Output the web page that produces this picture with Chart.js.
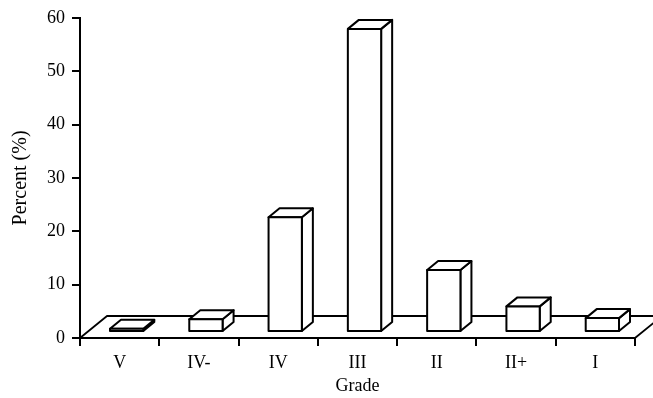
<!DOCTYPE html>
<html>
<head>
<meta charset="utf-8">
<script src="https://cdn.jsdelivr.net/npm/chart.js@4/dist/chart.umd.min.js"></script>
<style>
  html, body { margin: 0; padding: 0; background: #fff; }
  #wrap { width: 653px; height: 398px; }
</style>
</head>
<body>
<div id="wrap"><canvas id="c" width="653" height="398"></canvas></div>
<script>
// Distribution of grades (percent of cases)
const grades = ['V', 'IV-', 'IV', 'III', 'II', 'II+', 'I'];
const percents = [0.6, 2.4, 21.5, 56.8, 11.6, 4.8, 2.6];
const yTicks = [0, 10, 20, 30, 40, 50, 60];

const INK = '#000';
const SERIF = "'Liberation Serif', 'Times New Roman', serif";

// 3D look: floor depth, bar placement inside the floor, bar depth
const FLOOR = { dx: 27, dy: -22 };
const BAR_POS = { dx: 7, dy: -6 };
const BAR_DEPTH = { dx: 11, dy: -9 };

const floorPlugin = {
  id: 'floor3d',
  beforeDatasetsDraw(chart) {
    const { ctx, chartArea: a } = chart;
    ctx.save();
    ctx.strokeStyle = INK;
    ctx.lineWidth = 1.8;
    ctx.lineJoin = 'round';
    ctx.beginPath();
    ctx.moveTo(a.left, a.bottom);
    ctx.lineTo(a.left + FLOOR.dx, a.bottom + FLOOR.dy);
    ctx.lineTo(a.right + FLOOR.dx, a.bottom + FLOOR.dy);
    ctx.lineTo(a.right, a.bottom);
    ctx.stroke();
    ctx.restore();
  }
};

const boxPlugin = {
  id: 'box3d',
  afterDatasetsDraw(chart) {
    const { ctx } = chart;
    const meta = chart.getDatasetMeta(0);
    ctx.save();
    ctx.strokeStyle = INK;
    ctx.fillStyle = '#fff';
    ctx.lineWidth = 2;
    ctx.lineJoin = 'round';
    meta.data.forEach((bar) => {
      const { x, y, base, width } = bar.getProps(['x', 'y', 'base', 'width'], true);
      const l = x - width / 2 + BAR_POS.dx;
      const r = x + width / 2 + BAR_POS.dx;
      const t = y + BAR_POS.dy;
      const b = base + BAR_POS.dy;
      const dx = BAR_DEPTH.dx, dy = BAR_DEPTH.dy;
      const face = (pts) => {
        ctx.beginPath();
        ctx.moveTo(pts[0][0], pts[0][1]);
        for (let i = 1; i < pts.length; i++) ctx.lineTo(pts[i][0], pts[i][1]);
        ctx.closePath();
        ctx.fill();
        ctx.stroke();
      };
      face([[r, t], [r + dx, t + dy], [r + dx, b + dy], [r, b]]);   // side
      face([[l, t], [r, t], [r + dx, t + dy], [l + dx, t + dy]]);   // top
      face([[l, t], [r, t], [r, b], [l, b]]);                       // front
    });
    ctx.restore();
  }
};

new Chart(document.getElementById('c'), {
  type: 'bar',
  data: {
    labels: grades,
    datasets: [{
      data: percents,
      backgroundColor: 'rgba(0,0,0,0)',
      borderWidth: 0,
      barPercentage: 0.42,
      categoryPercentage: 1
    }]
  },
  options: {
    responsive: false,
    animation: false,
    devicePixelRatio: 1,
    layout: { padding: { top: 14, right: 18, bottom: 0, left: 0 } },
    plugins: { legend: { display: false }, tooltip: { enabled: false } },
    scales: {
      x: {
        offset: true,
        afterFit: (s) => { s.height = 60; },
        grid: { display: true, drawOnChartArea: false, offset: true, tickLength: 8, color: INK, lineWidth: 2 },
        border: { display: true, color: INK, width: 2 },
        ticks: { color: INK, padding: 6, font: { family: SERIF, size: 18, lineHeight: 1.2 }, maxRotation: 0 },
        title: { display: true, text: 'Grade', color: INK, padding: { top: 0, bottom: 1 }, font: { family: SERIF, size: 18, lineHeight: 1.2 } }
      },
      y: {
        min: 0,
        max: 60,
        afterFit: (s) => { s.width = 80; },
        afterBuildTicks: (s) => { s.ticks = yTicks.map((v) => ({ value: v })); },
        grid: { display: true, drawOnChartArea: false, tickLength: 8, color: INK, lineWidth: 2 },
        border: { display: true, color: INK, width: 2 },
        ticks: { color: INK, padding: 7, font: { family: SERIF, size: 18, lineHeight: 1.2 } },
        title: { display: true, text: 'Percent (%)', color: INK, padding: { top: 9, bottom: 0 }, font: { family: SERIF, size: 20, lineHeight: 1.2 } }
      }
    }
  },
  plugins: [floorPlugin, boxPlugin]
});
</script>
</body>
</html>
